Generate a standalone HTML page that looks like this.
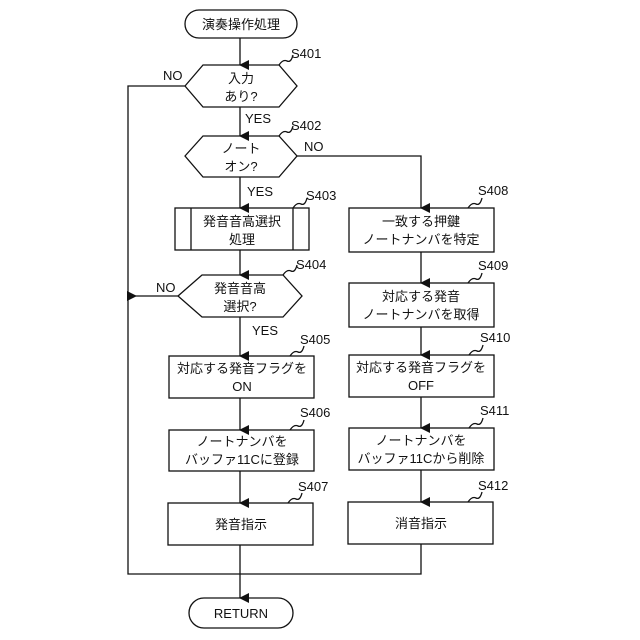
<!DOCTYPE html>
<html><head><meta charset="utf-8"><style>
html,body{margin:0;padding:0;background:#fff}
svg{display:block}
text{font-family:"Liberation Sans","Noto Sans CJK JP",sans-serif;font-size:13px;fill:#111}
</style></head><body>
<svg width="640" height="640" viewBox="0 0 640 640" xmlns="http://www.w3.org/2000/svg">
<defs><marker id="a" markerWidth="10" markerHeight="10" refX="5" refY="9" orient="auto" markerUnits="userSpaceOnUse"><path d="M0,0 L10,0 L5,10 z" fill="#111"/></marker>
<marker id="al" markerWidth="10" markerHeight="10" refX="9" refY="5" orient="auto" markerUnits="userSpaceOnUse"><path d="M10,0 L10,10 L0,5 z" fill="#111"/></marker></defs>
<g fill="none" stroke="#111" stroke-width="1.3">
<rect x="185" y="10" width="112" height="28" rx="14"/>
<rect x="189" y="598" width="104" height="30" rx="15"/>
<polygon points="185,86 203,65 279,65 297,86 279,107 203,107"/>
<polygon points="185,156 203,136 279,136 297,156 279,177 203,177"/>
<polygon points="178,296 202,275 283,275 302,296 283,317 202,317"/>
<rect x="175" y="208" width="134" height="42"/>
<line x1="191" y1="208" x2="191" y2="250"/><line x1="293" y1="208" x2="293" y2="250"/>
<rect x="169" y="356" width="145" height="42"/>
<rect x="169" y="430" width="145" height="41"/>
<rect x="168" y="503" width="145" height="42"/>
<rect x="349" y="208" width="145" height="44"/>
<rect x="349" y="283" width="145" height="44"/>
<rect x="349" y="355" width="145" height="42"/>
<rect x="349" y="428" width="145" height="42"/>
<rect x="348" y="502" width="145" height="42"/>
<!-- connectors -->
<line x1="240" y1="38" x2="240" y2="65" marker-end="url(#a)"/>
<line x1="240" y1="107" x2="240" y2="136" marker-end="url(#a)"/>
<line x1="240" y1="177" x2="240" y2="208" marker-end="url(#a)"/>
<line x1="240" y1="250" x2="240" y2="275" marker-end="url(#a)"/>
<line x1="240" y1="317" x2="240" y2="356" marker-end="url(#a)"/>
<line x1="240" y1="398" x2="240" y2="430" marker-end="url(#a)"/>
<line x1="240" y1="471" x2="240" y2="503" marker-end="url(#a)"/>
<line x1="240" y1="545" x2="240" y2="598" marker-end="url(#a)"/>
<polyline points="297,156 421,156 421,208" marker-end="url(#a)"/>
<line x1="421" y1="252" x2="421" y2="283" marker-end="url(#a)"/>
<line x1="421" y1="327" x2="421" y2="355" marker-end="url(#a)"/>
<line x1="421" y1="397" x2="421" y2="428" marker-end="url(#a)"/>
<line x1="421" y1="470" x2="421" y2="502" marker-end="url(#a)"/>
<polyline points="185,86 128,86 128,574 421,574 421,544"/>
<line x1="178" y1="296" x2="128" y2="296" marker-end="url(#al)"/>
<!-- squiggles -->
<path d="M279,65 q4,-6 8,-4 q4,2 6,-6"/>
<path d="M279,136 q4,-6 8,-4 q4,2 6,-6"/>
<path d="M293,208 q4,-6 8,-4 q4,2 6,-6"/>
<path d="M283,275 q4,-6 8,-4 q4,2 6,-6"/>
<path d="M290,356 q4,-6 8,-4 q4,2 6,-6"/>
<path d="M290,430 q4,-6 8,-4 q4,2 6,-6"/>
<path d="M288,503 q4,-6 8,-4 q4,2 6,-6"/>
<path d="M468,208 q4,-6 8,-4 q4,2 6,-6"/>
<path d="M468,283 q4,-6 8,-4 q4,2 6,-6"/>
<path d="M469,355 q4,-6 8,-4 q4,2 6,-6"/>
<path d="M469,428 q4,-6 8,-4 q4,2 6,-6"/>
<path d="M468,502 q4,-6 8,-4 q4,2 6,-6"/>
</g>
<g text-anchor="middle">
<text x="241" y="29">演奏操作処理</text>
<text x="241" y="83">入力</text><text x="241" y="101">あり?</text>
<text x="241" y="153">ノート</text><text x="241" y="171">オン?</text>
<text x="242" y="226">発音音高選択</text><text x="242" y="244">処理</text>
<text x="240" y="293">発音音高</text><text x="240" y="311">選択?</text>
<text x="242" y="373">対応する発音フラグを</text><text x="242" y="391">ON</text>
<text x="242" y="446">ノートナンバを</text><text x="242" y="464">バッファ11Cに登録</text>
<text x="241" y="529">発音指示</text>
<text x="421" y="226">一致する押鍵</text><text x="421" y="244">ノートナンバを特定</text>
<text x="421" y="301">対応する発音</text><text x="421" y="319">ノートナンバを取得</text>
<text x="421" y="372">対応する発音フラグを</text><text x="421" y="390">OFF</text>
<text x="421" y="445">ノートナンバを</text><text x="421" y="463">バッファ11Cから削除</text>
<text x="421" y="528">消音指示</text>
<text x="241" y="618">RETURN</text>
</g>
<g>
<text x="291" y="58">S401</text>
<text x="291" y="130">S402</text>
<text x="306" y="200">S403</text>
<text x="296" y="269">S404</text>
<text x="300" y="344">S405</text>
<text x="300" y="417">S406</text>
<text x="298" y="491">S407</text>
<text x="478" y="195">S408</text>
<text x="478" y="270">S409</text>
<text x="480" y="342">S410</text>
<text x="480" y="415">S411</text>
<text x="478" y="490">S412</text>
<text x="163" y="80">NO</text>
<text x="245" y="123">YES</text>
<text x="304" y="151">NO</text>
<text x="247" y="196">YES</text>
<text x="156" y="292">NO</text>
<text x="252" y="335">YES</text>
</g>
</svg>
</body></html>
